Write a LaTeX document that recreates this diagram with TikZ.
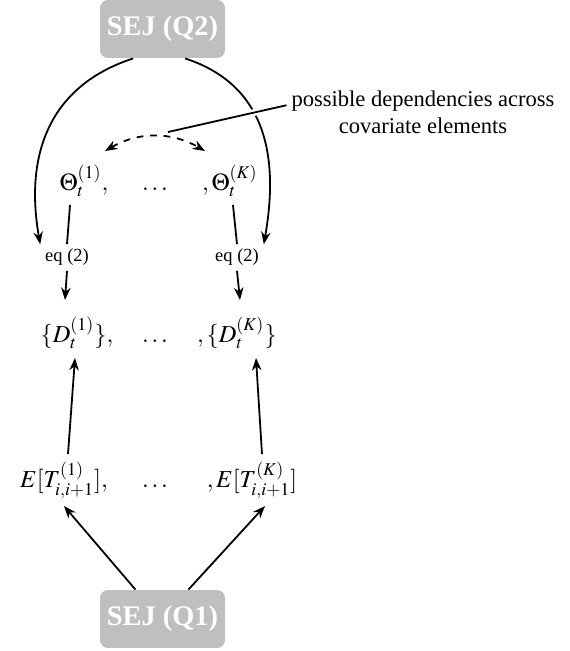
\documentclass[tikz,border=0pt]{standalone}
\usepackage{mathptmx}
\usepackage{fontspec}
\setmainfont{Liberation Serif}
\usetikzlibrary{arrows.meta}

\tikzset{
  sej/.style={fill=black!25, rounded corners=3.5pt, minimum width=55.4pt,
    minimum height=25.7pt, text=white, inner sep=0pt,
    font=\fontsize{12.6pt}{15pt}\selectfont\bfseries},
  row/.style={anchor=base, inner sep=2pt, font=\fontsize{10.8pt}{13pt}\selectfont},
  eqlab/.style={anchor=base, inner sep=2pt, font=\fontsize{8.2pt}{10pt}\selectfont},
  link/.style={line width=0.8pt, -{Stealth[length=5.5pt,width=4.2pt]}},
  plain/.style={line width=0.8pt},
}

\begin{document}
\begin{tikzpicture}[x=0.4435pt, y=0.4435pt]
    \useasboundingbox (0,0) rectangle (570,651);

    % Boites SEJ
    \node[sej] (q2) at (162.5,622) {SEJ (Q2)};
    \node[sej] (q1) at (162.5,32) {SEJ (Q1)};

    % Ligne des parametres
    \node[row] (th1) at (84,460) {$\Theta_t^{(1)},$};
    \node[row] (thd) at (155,460) {$\dots$};
    \node[row] (thK) at (230,460) {$,\Theta_t^{(K)}$};

    % Equations
    \node[eqlab] (eq1) at (67,389) {eq (2)};
    \node[eqlab] (eqK) at (237,389) {eq (2)};

    % Ligne des D
    \node[row] (d1) at (77,308) {$\{D_t^{(1)}\},$};
    \node[row] (dd) at (155,308) {$\dots$};
    \node[row] (dK) at (237,308) {$,\{D_t^{(K)}\}$};

    % Ligne des esperances
    \node[row] (e1) at (64,163) {$E[T_{i,i+1}^{(1)}],$};
    \node[row] (ed) at (155,163) {$\dots$};
    \node[row] (eK) at (252,163) {$,E[T_{i,i+1}^{(K)}]$};

    % Note
    \node[align=center, inner sep=2pt] (note) at (423,539)
      {possible dependencies across\\covariate elements};
    \coordinate (dep) at (168,519);

    % Fleches depuis SEJ (Q2)
    \draw[link] ([xshift=-13pt]q2.south) to[out=198,in=100,looseness=1.1] (eq1.north west);
    \draw[link] ([xshift=10pt]q2.south) to[out=-18,in=80,looseness=1.1] (eqK.north east);

    % Dependances
    \draw[link, {Stealth[length=5.5pt,width=4.2pt]}-{Stealth[length=5.5pt,width=4.2pt]}, dashed]
      ([shift={(21,40)}]th1.base) to[bend left=30] ([shift={(-25,40)}]thK.base);
    \draw[plain, preaction={draw,white,line width=3pt}]
      ([yshift=3pt]note.west) -- (dep);

    % Parametres vers eq (2)
    \draw[plain] ([shift={(-14,-14)}]th1.base) -- (eq1.north);
    \draw[plain] ([shift={(3,-14)}]thK.base) -- (eqK.north);
    \draw[link] (eq1.south) -- ([shift={(-12,43)}]d1.base);
    \draw[link] (eqK.south) -- ([shift={(3,43)}]dK.base);

    % Esperances vers D
    \draw[link] ([shift={(4,34)}]e1.base) -- ([shift={(-2,-15)}]d1.base);
    \draw[link] ([shift={(10,34)}]eK.base) -- ([shift={(19,-15)}]dK.base);

    % SEJ (Q1) vers esperances
    \draw[link] ([xshift=-12pt]q1.north) -- ([shift={(0,-18)}]e1.base);
    \draw[link] ([xshift=11.5pt]q1.north) -- ([shift={(13,-18)}]eK.base);

  \end{tikzpicture}
\end{document}
